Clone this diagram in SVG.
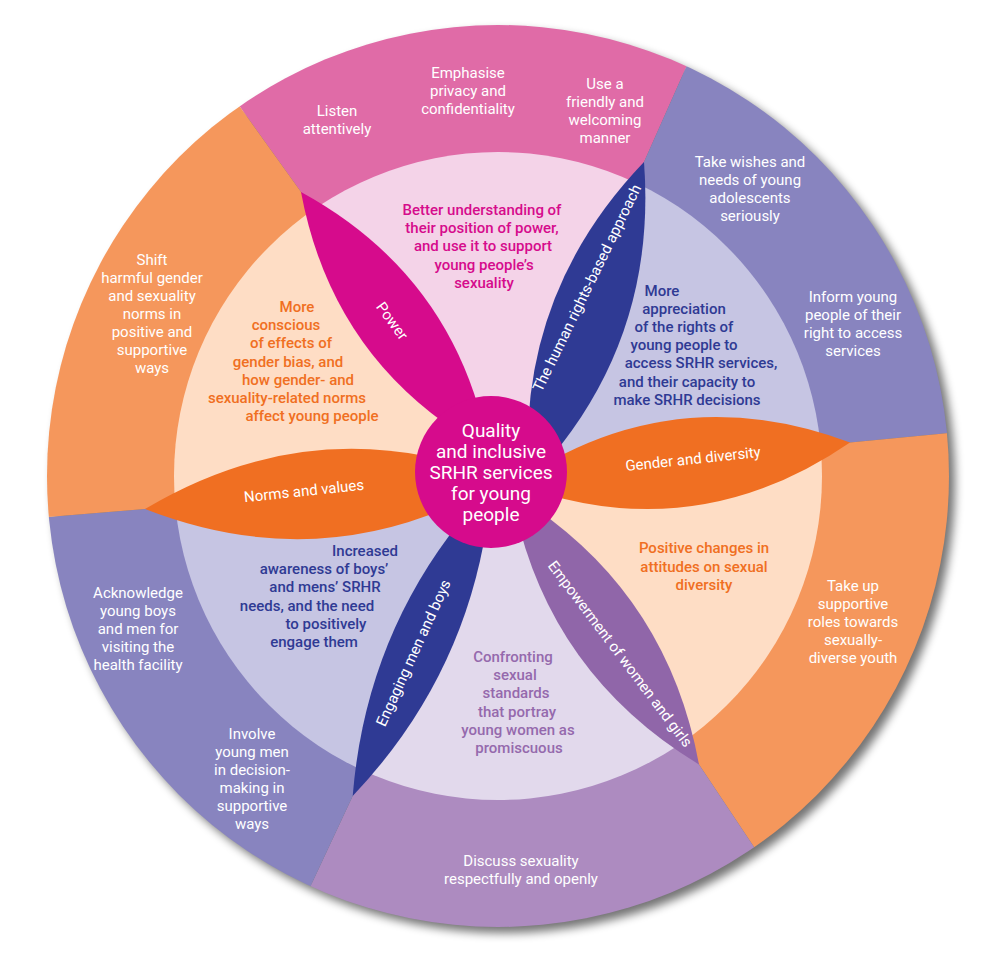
<svg xmlns="http://www.w3.org/2000/svg" width="1000" height="967" viewBox="0 0 1000 967">
<defs>
<style>
.t{font-family:Roboto,"Liberation Sans",Arial,sans-serif;font-size:15px;font-weight:500;text-anchor:middle}
.w{fill:#ffffff;font-weight:400}
.mg{fill:#D60B8C}
.db{fill:#2F3A94}
.or{fill:#F06F22}
.pu{fill:#9569AD}
.ctr{font-size:19px;font-weight:400}
.o-pink{fill:#E06BA7}
.o-orange{fill:#F5975C}
.o-blue{fill:#8884BF}
.o-lav{fill:#AD8BC0}
.i-pink{fill:#F4D3E8}
.i-blue{fill:#C6C5E3}
.i-peach{fill:#FEDDC5}
.i-lilac{fill:#E2D9EC}
.p-mag{fill:#D60B8C}
.p-blue{fill:#2F3A94}
.p-orange{fill:#F06F22}
.p-purple{fill:#9066A9}
</style>
<filter id="sh" x="-10%" y="-10%" width="125%" height="125%">
<feGaussianBlur in="SourceAlpha" stdDeviation="5"/>
<feOffset dx="6" dy="6"/>
<feComponentTransfer><feFuncA type="linear" slope="0.55"/></feComponentTransfer>
</filter>
<clipPath id="co"><circle cx="498" cy="476" r="451"/></clipPath>
<clipPath id="ci"><circle cx="498" cy="476" r="324"/></clipPath>
<path id="s1" d="M491,472 L489,451 L301,192 L210,65 L150,-20 L740,-20 L708,18 L644,162 L529,482 Z"/>
<path id="s2" d="M491,472 L529,482 L644,162 L708,18 L760,-20 L1020,-20 L1020,428 L1000,428 L850,442.5 L514,483.5 Z"/>
<path id="s3" d="M491,472 L514,483.5 L850,442.5 L1000,428 L1020,428 L1020,990 L800,990 L780,886 L699,764.5 L511.6,493 Z"/>
<path id="s4" d="M491,472 L511.6,493 L699,764.5 L780,886 L800,990 L280,990 L290,930 L352.7,796 L491.4,485.6 Z"/>
<path id="s5" d="M491,472 L491.4,485.6 L352.7,796 L290,930 L270,990 L-20,990 L-20,521 L0,521 L145,509 L503.7,479 Z"/>
<path id="s6" d="M491,472 L503.7,479 L145,509 L0,521 L-20,521 L-20,-20 L190,-20 L210,65 L301,192 L489,451 Z"/>
</defs>
<rect x="0" y="0" width="1000" height="967" fill="#ffffff"/>
<circle cx="498" cy="476" r="451" fill="#000" filter="url(#sh)"/>

<g id="outer-ring" clip-path="url(#co)">
<g id="outer-communication">
<use href="#s1" class="o-pink"/>
<text class="t w"><tspan x="337" y="116">Listen</tspan><tspan x="337" y="134">attentively</tspan></text>
<text class="t w"><tspan x="468" y="78">Emphasise</tspan><tspan x="468" y="96">privacy and</tspan><tspan x="468" y="114">confidentiality</tspan></text>
<text class="t w"><tspan x="605" y="89">Use a</tspan><tspan x="605" y="107">friendly and</tspan><tspan x="605" y="125">welcoming</tspan><tspan x="605" y="143">manner</tspan></text>
</g>
<g id="outer-rights">
<use href="#s2" class="o-blue"/>
<text class="t w"><tspan x="750" y="167">Take wishes and</tspan><tspan x="750" y="185">needs of young</tspan><tspan x="750" y="203">adolescents</tspan><tspan x="750" y="221">seriously</tspan></text>
<text class="t w"><tspan x="853" y="302">Inform young</tspan><tspan x="853" y="320">people of their</tspan><tspan x="853" y="338">right to access</tspan><tspan x="853" y="356">services</tspan></text>
</g>
<g id="outer-diversity">
<use href="#s3" class="o-orange"/>
<text class="t w"><tspan x="853" y="591">Take up</tspan><tspan x="853" y="609">supportive</tspan><tspan x="853" y="627">roles towards</tspan><tspan x="853" y="645">sexually-</tspan><tspan x="853" y="663">diverse youth</tspan></text>
</g>
<g id="outer-women">
<use href="#s4" class="o-lav"/>
<text class="t w"><tspan x="521" y="866">Discuss sexuality</tspan><tspan x="521" y="884">respectfully and openly</tspan></text>
</g>
<g id="outer-men">
<use href="#s5" class="o-blue"/>
<text class="t w"><tspan x="138" y="598">Acknowledge</tspan><tspan x="138" y="616">young boys</tspan><tspan x="138" y="634">and men for</tspan><tspan x="138" y="652">visiting the</tspan><tspan x="138" y="670">health facility</tspan></text>
<text class="t w"><tspan x="252" y="739">Involve</tspan><tspan x="252" y="757">young men</tspan><tspan x="252" y="775">in decision-</tspan><tspan x="252" y="793">making in</tspan><tspan x="252" y="811">supportive</tspan><tspan x="252" y="829">ways</tspan></text>
</g>
<g id="outer-norms">
<use href="#s6" class="o-orange"/>
<text class="t w"><tspan x="152" y="265">Shift</tspan><tspan x="152" y="283">harmful gender</tspan><tspan x="152" y="301">and sexuality</tspan><tspan x="152" y="319">norms in</tspan><tspan x="152" y="337">positive and</tspan><tspan x="152" y="355">supportive</tspan><tspan x="152" y="373">ways</tspan></text>
</g>
</g>

<g id="inner-ring">
<g id="inner-power">
<use href="#s1" class="i-pink" clip-path="url(#ci)"/>
<text class="t mg"><tspan x="482" y="215">Better understanding of</tspan><tspan x="482" y="233">their position of power,</tspan><tspan x="483" y="251">and use it to support</tspan><tspan x="484" y="270">young people’s</tspan><tspan x="484" y="288">sexuality</tspan></text>
</g>
<g id="inner-rights">
<use href="#s2" class="i-blue" clip-path="url(#ci)"/>
<text class="t db"><tspan x="662" y="296">More</tspan><tspan x="684" y="314">appreciation</tspan><tspan x="684" y="332">of the rights of</tspan><tspan x="684" y="350">young people to</tspan><tspan x="701" y="368">access SRHR services,</tspan><tspan x="687" y="387">and their capacity to</tspan><tspan x="687" y="405">make SRHR decisions</tspan></text>
</g>
<g id="inner-diversity">
<use href="#s3" class="i-peach" clip-path="url(#ci)"/>
<text class="t or"><tspan x="704" y="553">Positive changes in</tspan><tspan x="704" y="572">attitudes on sexual</tspan><tspan x="704" y="590">diversity</tspan></text>
</g>
<g id="inner-women">
<use href="#s4" class="i-lilac" clip-path="url(#ci)"/>
<text class="t pu"><tspan x="513" y="662">Confronting</tspan><tspan x="515" y="680">sexual</tspan><tspan x="516" y="698">standards</tspan><tspan x="517" y="717">that portray</tspan><tspan x="518" y="735">young women as</tspan><tspan x="519" y="753">promiscuous</tspan></text>
</g>
<g id="inner-men">
<use href="#s5" class="i-blue" clip-path="url(#ci)"/>
<text class="t db"><tspan x="365" y="556">Increased</tspan><tspan x="324" y="574">awareness of boys’</tspan><tspan x="325" y="592">and mens’ SRHR</tspan><tspan x="307" y="611">needs, and the need</tspan><tspan x="326" y="629">to positively</tspan><tspan x="314" y="647">engage them</tspan></text>
</g>
<g id="inner-norms">
<use href="#s6" class="i-peach" clip-path="url(#ci)"/>
<text class="t or"><tspan x="297" y="312">More</tspan><tspan x="286" y="330">conscious</tspan><tspan x="291" y="348">of effects of</tspan><tspan x="288" y="367">gender bias, and</tspan><tspan x="298" y="385">how gender- and</tspan><tspan x="287" y="403">sexuality-related norms</tspan><tspan x="312" y="421">affect young people</tspan></text>
</g>
</g>

<g id="petals">
<g id="petal-power">
<path class="p-mag" d="M301,192 Q333.5,366.1 489,451 Q456.5,276.9 301,192 Z"/>
<text class="t w" transform="translate(392,321) rotate(54)" x="0" y="5">Power</text>
</g>
<g id="petal-rights">
<path class="p-blue" d="M644,162 Q515,296.3 529,482 Q658,347.7 644,162 Z"/>
<text class="t w" transform="translate(587,288) rotate(-64)" x="0" y="5">The human rights-based approach</text>
</g>
<g id="petal-gender">
<path class="p-orange" d="M850,442.5 Q671.3,375.7 514,483.5 Q692.7,550.4 850,442.5 Z"/>
<text class="t w" transform="translate(693,459) rotate(-6)" x="0" y="5">Gender and diversity</text>
</g>
<g id="petal-women">
<path class="p-purple" d="M699,764.5 Q666.2,586.7 511.6,493 Q544.4,670.8 699,764.5 Z"/>
<text class="t w" transform="translate(620,654) rotate(53)" x="0" y="5">Empowerment of women and girls</text>
</g>
<g id="petal-men">
<path class="p-blue" d="M352.7,796 Q476.8,665.3 491.4,485.6 Q367.2,616.3 352.7,796 Z"/>
<text class="t w" transform="translate(413.5,653) rotate(-65.5)" x="0" y="5">Engaging men and boys</text>
</g>
<g id="petal-norms">
<path class="p-orange" d="M145,509 Q331.7,581.7 503.7,479 Q317,406.3 145,509 Z"/>
<text class="t w" transform="translate(304,491) rotate(-6)" x="0" y="5">Norms and values</text>
</g>
</g>

<g id="center">
<circle cx="491" cy="472" r="76" class="p-mag"/>
<text class="t w ctr"><tspan x="491" y="437">Quality</tspan><tspan x="491" y="458">and inclusive</tspan><tspan x="491" y="479">SRHR services</tspan><tspan x="491" y="500">for young</tspan><tspan x="491" y="521">people</tspan></text>
</g>
</svg>
